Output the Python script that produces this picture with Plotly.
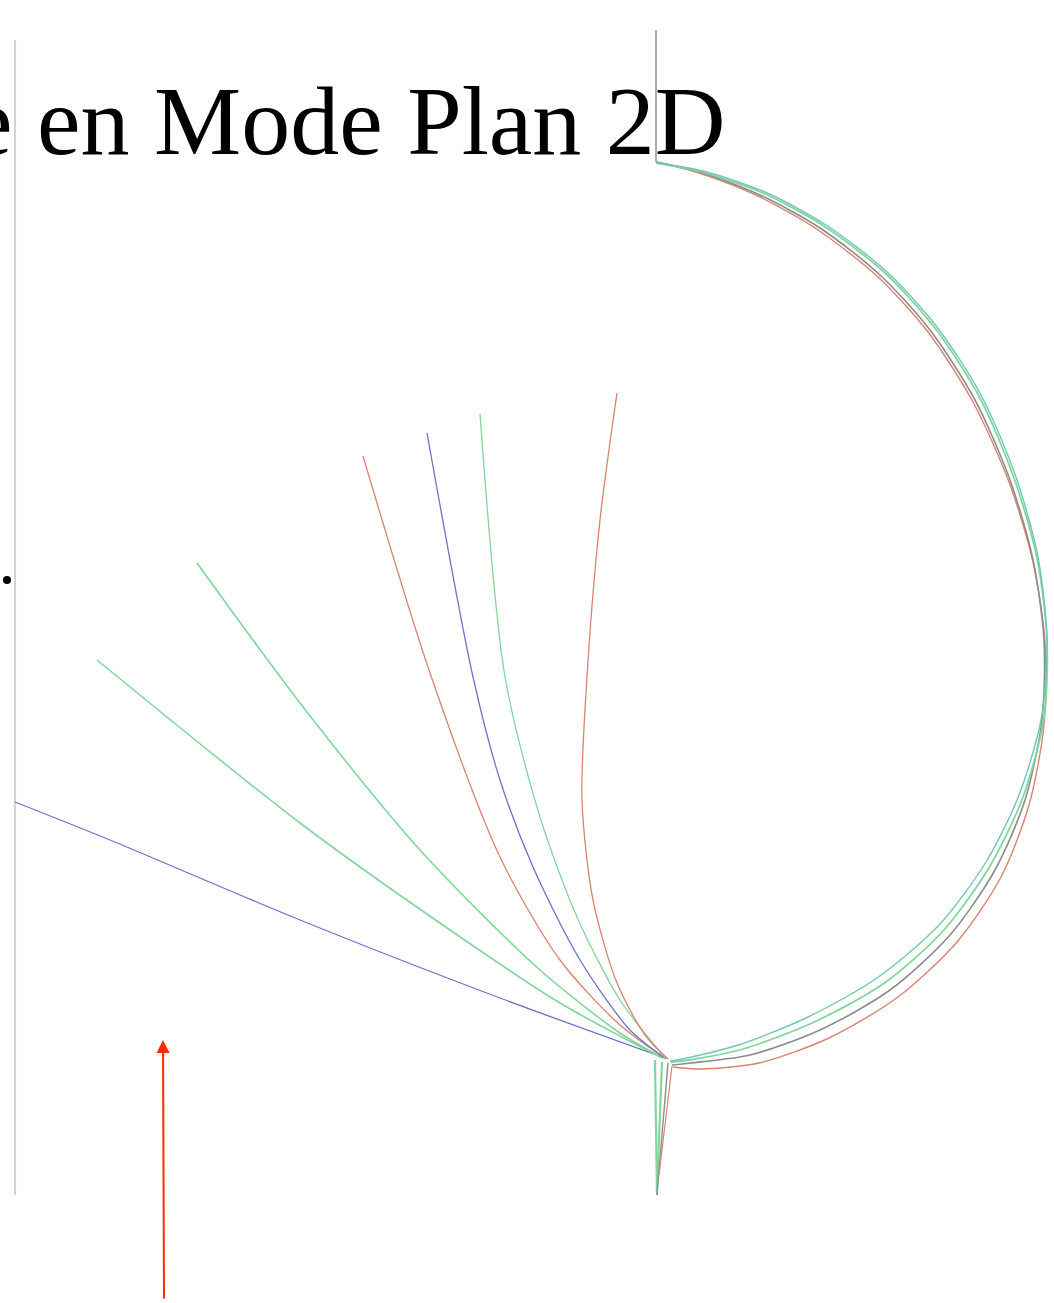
import plotly.graph_objects as go

W, H = 1054, 1303

# ---- data (page pixel coordinates) ----
title_text = "e en Mode Plan 2D"

# circular trajectories
circ_gray_x = [656, 700, 760, 820, 880, 930, 975, 1010, 1033, 1044, 1042, 1025, 995, 950, 890, 820, 750, 690, 672]
circ_gray_y = [162, 172, 195, 228, 275, 330, 400, 480, 560, 640, 720, 800, 870, 935, 990, 1030, 1055, 1063, 1065]
circ_green_x = [656, 702, 763, 824, 885, 935, 980, 1014, 1037, 1047, 1044, 1023, 990, 944, 883, 812, 743, 689, 671]
circ_green_y = [163, 172, 193, 226, 273, 328, 398, 478, 558, 640, 718, 797, 866, 930, 984, 1023, 1049, 1060, 1062]
circ_teal_x = [656, 703, 765, 826, 887, 937, 982, 1016, 1038, 1047, 1041, 1019, 986, 939, 877, 806, 738, 687, 670]
circ_teal_y = [163, 171, 192, 225, 272, 327, 397, 477, 557, 640, 720, 795, 862, 925, 978, 1018, 1045, 1058, 1061]
circ_red_x = [656, 699, 758, 818, 878, 928, 973, 1009, 1033, 1045, 1044, 1029, 1001, 957, 898, 829, 759, 701, 673]
circ_red_y = [162, 173, 196, 230, 277, 332, 402, 482, 562, 642, 725, 805, 877, 942, 997, 1038, 1063, 1069, 1067]

# fan of trajectories toward the convergence point
fan_blue1_x = [15, 110, 300, 500, 665]
fan_blue1_y = [802, 840, 920, 998, 1058]
fan_green1_x = [97, 300, 450, 560, 662]
fan_green1_y = [660, 823, 930, 1003, 1058]
fan_green2_x = [197, 300, 420, 540, 620, 663]
fan_green2_y = [563, 703, 850, 970, 1033, 1058]
fan_red1_x = [363, 430, 500, 560, 620, 665]
fan_red1_y = [456, 673, 857, 960, 1025, 1058]
fan_blue2_x = [427, 473, 500, 533, 580, 630, 666]
fan_blue2_y = [433, 677, 780, 867, 960, 1030, 1059]
fan_green3_x = [480, 505, 540, 577, 620, 666]
fan_green3_y = [414, 677, 817, 917, 1000, 1059]
fan_red2_x = [617, 600, 587, 582, 593, 617, 645, 668]
fan_red2_y = [393, 520, 677, 800, 900, 983, 1035, 1059]

# stem below the convergence point
stem_green_x = [655, 657]
stem_green_y = [1060, 1195]
stem_green2_x = [662, 657]
stem_green2_y = [1062, 1190]
stem_gray_x = [668, 657]
stem_gray_y = [1063, 1195]
stem_red_x = [672, 659]
stem_red_y = [1066, 1175]

# guide lines
left_line_x = [15, 15]
left_line_y = [40, 1195]
right_line_x = [656, 656]
right_line_y = [30, 162]

dot_x = [7]
dot_y = [580]

arrow_tail = (164, 1300)
arrow_head = (163, 1040)

GREEN = "#82d69c"
GRAY = "#8c8c8c"
TEAL = "#6fc7b8"
BLUE = "#6d74c4"
RED = "#d98470"

fig = go.Figure()

def add_line(x, y, color, width=1.4):
    fig.add_trace(go.Scatter(x=x, y=y, mode="lines", line=dict(color=color, width=width, shape="spline", smoothing=0.8),
                             hoverinfo="skip", showlegend=False))

add_line(left_line_x, left_line_y, "#d9d0cb", 2.2)
add_line(right_line_x, right_line_y, "#a8a4a2", 1.8)

add_line(circ_red_x, circ_red_y, RED)
add_line(circ_gray_x, circ_gray_y, GRAY, 1.6)
add_line(circ_green_x, circ_green_y, GREEN, 1.8)
add_line(circ_teal_x, circ_teal_y, TEAL, 1.4)

add_line(fan_blue1_x, fan_blue1_y, BLUE, 1.3)
add_line(fan_green1_x, fan_green1_y, GREEN, 1.6)
add_line(fan_green2_x, fan_green2_y, GREEN, 1.6)
add_line(fan_red1_x, fan_red1_y, RED, 1.3)
add_line(fan_blue2_x, fan_blue2_y, BLUE, 1.3)
add_line(fan_green3_x, fan_green3_y, GREEN, 1.3)
add_line(fan_red2_x, fan_red2_y, RED, 1.3)

add_line(stem_green_x, stem_green_y, GREEN, 2.2)
add_line(stem_green2_x, stem_green2_y, GREEN, 2.2)
add_line(stem_gray_x, stem_gray_y, GRAY, 1.4)
add_line(stem_red_x, stem_red_y, RED, 1.2)

fig.add_trace(go.Scatter(x=dot_x, y=dot_y, mode="markers", marker=dict(color="black", size=8),
                         hoverinfo="skip", showlegend=False))

fig.add_annotation(x=728, y=121, xref="x", yref="y", text=title_text, showarrow=False,
                   xanchor="right", yanchor="middle",
                   font=dict(family="Liberation Serif, Times New Roman, serif", size=98, color="black"))

fig.add_annotation(x=arrow_head[0], y=arrow_head[1], ax=arrow_tail[0], ay=arrow_tail[1],
                   xref="x", yref="y", axref="x", ayref="y", text="", showarrow=True,
                   arrowhead=2, arrowsize=1.3, arrowwidth=2.0, arrowcolor="#ff2a00")

fig.update_layout(width=W, height=H, margin=dict(l=0, r=0, t=0, b=0),
                  paper_bgcolor="white", plot_bgcolor="white",
                  xaxis=dict(range=[0, W], visible=False, fixedrange=True),
                  yaxis=dict(range=[H, 0], visible=False, fixedrange=True))

fig.write_html("out.html", config={"displayModeBar": False})

# remove default page margin so the figure sits at the window's top-left corner
with open("out.html", "r", encoding="utf-8") as f:
    html = f.read()
html = html.replace("<body>", '<body style="margin:0;padding:0;overflow:hidden">', 1)
with open("out.html", "w", encoding="utf-8") as f:
    f.write(html)
